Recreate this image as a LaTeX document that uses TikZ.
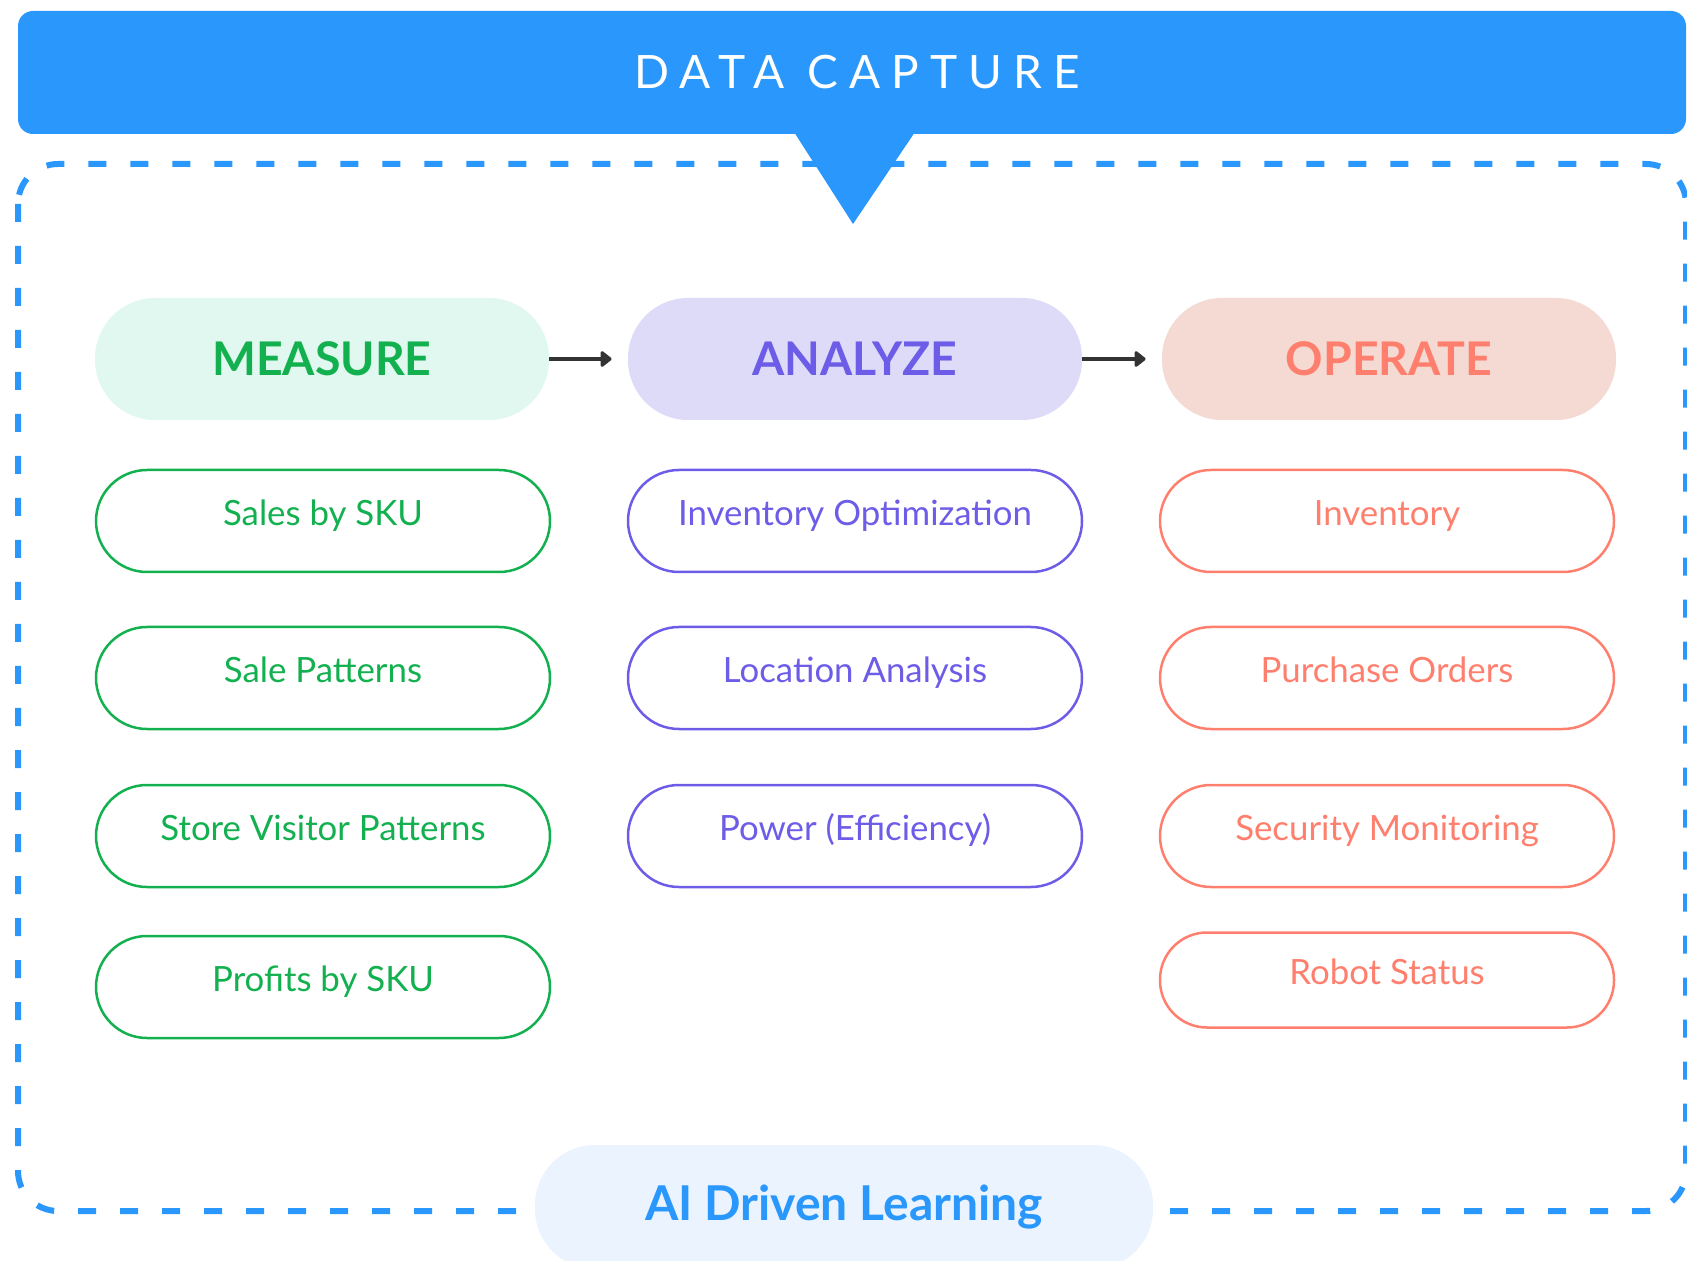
\documentclass[tikz,border=0pt]{standalone}
\usepackage{fontspec}
\setmainfont{Lato}
\newfontfamily\spacedfont[LetterSpace=24]{Lato}
\usetikzlibrary{arrows.meta}
\definecolor{capblue}{HTML}{2997FB}
\definecolor{learnfill}{HTML}{EAF3FE}
\definecolor{measurec}{HTML}{12B04F}
\definecolor{measurefill}{HTML}{E0F8EF}
\definecolor{analyzec}{HTML}{6C5CE7}
\definecolor{analyzefill}{HTML}{DEDBF8}
\definecolor{operatec}{HTML}{FF7F6E}
\definecolor{operatefill}{HTML}{F4DAD3}
\definecolor{flowc}{HTML}{333333}
\tikzstyle{stage}=[rectangle, rounded corners=30pt, minimum width=227pt,
minimum height=61pt, text centered, font=\fontsize{23.2}{28}\selectfont\bfseries]
\tikzstyle{task}=[rectangle, draw, line width=1.25pt, rounded corners=25.5pt,
minimum width=227pt, minimum height=51pt, text height=0.72em, text depth=0.25em,
font=\fontsize{17.4}{21}\selectfont]
\tikzstyle{flow}=[-{Triangle[length=6pt,width=9pt,round]}, line width=2pt, flowc,
shorten >=8pt]

\begin{document}
\begin{tikzpicture}[x=0.5pt,y=-0.5pt]
\useasboundingbox (0,0) rectangle (1687,1261);
\clip (0,0) rectangle (1687,1261);
% banner and loop frame
\fill[capblue, rounded corners=7.5pt] (18,11) rectangle (1686,134);
\fill[capblue] (794,132) -- (915,132) -- (853,224) -- cycle;
\node[text=white, font=\spacedfont\fontsize{23}{28}\selectfont](capture) at (857,72) {DATA CAPTURE};
\draw[capblue, line width=3pt, dash pattern=on 9pt off 12pt, rounded corners=20pt]
(18,164) rectangle (1686,1211);
% stages
\node[stage, fill=measurefill, text=measurec](measure) at (322,359) {MEASURE};
\node[stage, fill=analyzefill, text=analyzec](analyze) at (855,359) {ANALYZE};
\node[stage, fill=operatefill, text=operatec](operate) at (1389,359) {OPERATE};
\draw [flow](measure) -- (analyze);
\draw [flow](analyze) -- (operate);
% measure column
\node[task, measurec](m1) at (323,521) {Sales by SKU};
\node[task, measurec](m2) at (323,678) {Sale Patterns};
\node[task, measurec](m3) at (323,836) {Store Visitor Patterns};
\node[task, measurec](m4) at (323,987) {Profits by SKU};
% analyze column
\node[task, analyzec](a1) at (855,521) {Inventory Optimization};
\node[task, analyzec](a2) at (855,678) {Location Analysis};
\node[task, analyzec](a3) at (855,836) {Power (Efficiency)};
% operate column
\node[task, operatec](o1) at (1387,521) {Inventory};
\node[task, operatec](o2) at (1387,678) {Purchase Orders};
\node[task, operatec](o3) at (1387,836) {Security Monitoring};
\node[task, operatec, minimum height=47.5pt, rounded corners=23.5pt](o4) at (1387,980) {Robot Status};
% learning loop
\node[stage, fill=learnfill, text=capblue, minimum width=309pt, minimum height=62pt,
font=\fontsize{24}{29}\selectfont\bfseries](learning) at (844,1207) {AI Driven Learning};
\end{tikzpicture}
\end{document}
